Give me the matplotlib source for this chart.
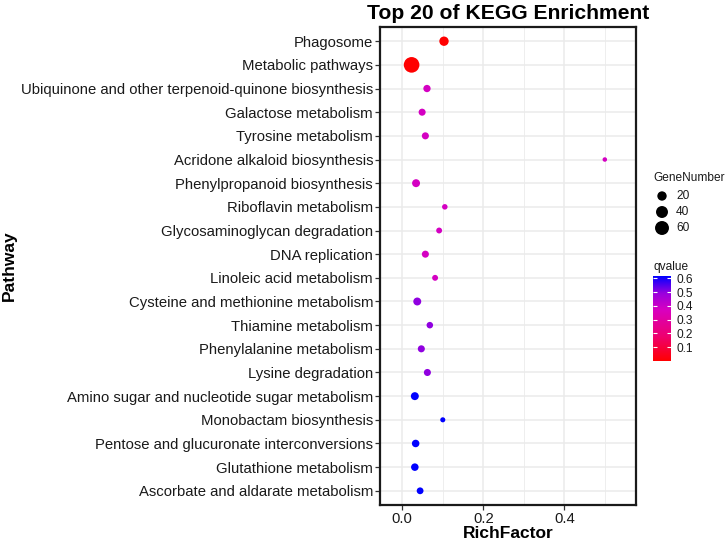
import numpy as np
import matplotlib
matplotlib.use("Agg")
import matplotlib.pyplot as plt
from matplotlib.colors import LinearSegmentedColormap, Normalize

plt.rcParams['font.family'] = ['Liberation Sans', 'DejaVu Sans']

pathways = [
    "Phagosome",
    "Metabolic pathways",
    "Ubiquinone and other terpenoid-quinone biosynthesis",
    "Galactose metabolism",
    "Tyrosine metabolism",
    "Acridone alkaloid biosynthesis",
    "Phenylpropanoid biosynthesis",
    "Riboflavin metabolism",
    "Glycosaminoglycan degradation",
    "DNA replication",
    "Linoleic acid metabolism",
    "Cysteine and methionine metabolism",
    "Thiamine metabolism",
    "Phenylalanine metabolism",
    "Lysine degradation",
    "Amino sugar and nucleotide sugar metabolism",
    "Monobactam biosynthesis",
    "Pentose and glucuronate interconversions",
    "Glutathione metabolism",
    "Ascorbate and aldarate metabolism",
]
rich_factor = [0.103, 0.023, 0.061, 0.049, 0.057, 0.500, 0.034, 0.105, 0.091, 0.057,
               0.081, 0.037, 0.068, 0.047, 0.062, 0.031, 0.100, 0.033, 0.031, 0.044]
gene_number = [20, 80, 9, 8, 8, 1, 12, 3, 4, 8,
               4, 12, 6, 8, 8, 12, 2, 10, 10, 7]
qvalue = [0.002, 0.0, 0.38, 0.38, 0.38, 0.38, 0.38, 0.38, 0.38, 0.38,
          0.38, 0.50, 0.50, 0.50, 0.50, 0.617, 0.617, 0.617, 0.617, 0.617]

size_breaks = [20, 40, 60]
q_ticks = [0.1, 0.2, 0.3, 0.4, 0.5, 0.6]
x_ticks = [0.0, 0.2, 0.4]

# red -> pink -> magenta -> violet -> blue gradient
cmap = LinearSegmentedColormap.from_list("qgrad", [
    (0.0, (1.0, 0.0, 0.0)),
    (0.3, (0.93, 0.0, 0.45)),
    (0.6, (0.85, 0.0, 0.75)),
    (0.8, (0.60, 0.0, 0.87)),
    (1.0, (0.0, 0.0, 1.0)),
])
norm = Normalize(vmin=min(qvalue), vmax=max(qvalue))

def marker_area(n):
    n = np.asarray(n, float)
    d_px = 3.1 + 1.4 * np.sqrt(n)
    d_pt = d_px * 72 / 100
    return d_pt ** 2

W, H = 726, 541
fig = plt.figure(figsize=(W / 100, H / 100), dpi=100)
ax = fig.add_axes([380 / W, 1 - 505 / H, (636 - 380) / W, (505 - 27) / H])

ypos = np.arange(len(pathways))[::-1] + 1
ax.set_facecolor('white')
ax.scatter(rich_factor, ypos, s=marker_area(gene_number), c=qvalue, cmap=cmap, norm=norm,
           edgecolors='none', zorder=3)

ax.set_xlim(-0.055, 0.577)
ax.set_ylim(0.4, len(pathways) + 0.6)
ax.set_yticks(ypos)
ax.set_yticklabels(pathways)
ax.set_xticks(x_ticks)
ax.set_xticklabels([f"{v:.1f}" for v in x_ticks])
ax.set_xticks([0.1, 0.3, 0.5], minor=True)
ax.grid(True, which='major', color='#EBEBEB', linewidth=1.1, zorder=0)
ax.grid(True, which='minor', axis='x', color='#EBEBEB', linewidth=0.6, zorder=0)
ax.set_axisbelow(True)
for sp in ax.spines.values():
    sp.set_color('#1a1a1a')
    sp.set_linewidth(1.6)
ax.tick_params(axis='both', which='major', length=3.5, width=0.9, color='#333333',
               labelsize=10.7, labelcolor='#1a1a1a', pad=1.5)
ax.tick_params(axis='x', which='minor', length=0)
ax.set_xlabel("RichFactor", fontsize=12.5, fontweight='bold', labelpad=0)
ax.set_ylabel("Pathway", fontsize=12.5, fontweight='bold', labelpad=3)
ax.set_title("Top 20 of KEGG Enrichment", fontsize=15.2, fontweight='bold', pad=6)

# ---- size legend ----
fig.text(653 / W, 1 - 178 / H, "GeneNumber", fontsize=8.6, va='center', ha='left', color='#1a1a1a')
lax = fig.add_axes([0, 0, 1, 1])
lax.set_xlim(0, W)
lax.set_ylim(H, 0)
lax.axis('off')
leg_y = 196 + 16 * np.arange(len(size_breaks))
lax.scatter([662] * len(size_breaks), leg_y, s=marker_area(size_breaks), color='black',
            edgecolors='none')
for yy, b in zip(leg_y, size_breaks):
    lax.text(676, yy, str(b), fontsize=8.6, va='center', ha='left', color='#1a1a1a')

# ---- colour bar ----
fig.text(653 / W, 1 - 267 / H, "qvalue", fontsize=8.6, va='center', ha='left', color='#1a1a1a')
cax = fig.add_axes([653 / W, 1 - 361 / H, (671 - 653) / W, (361 - 276) / H])
sm = matplotlib.cm.ScalarMappable(norm=norm, cmap=cmap)
cb = fig.colorbar(sm, cax=cax)
cb.outline.set_visible(False)
cb.set_ticks(q_ticks)
cb.set_ticklabels([f"{v:.1f}" for v in q_ticks])
cb.ax.tick_params(length=3, width=0.8, color='white', direction='in', labelsize=8.6,
                  labelcolor='#1a1a1a', pad=4, left=True, right=True)

fig.savefig("out.png", dpi=100)
